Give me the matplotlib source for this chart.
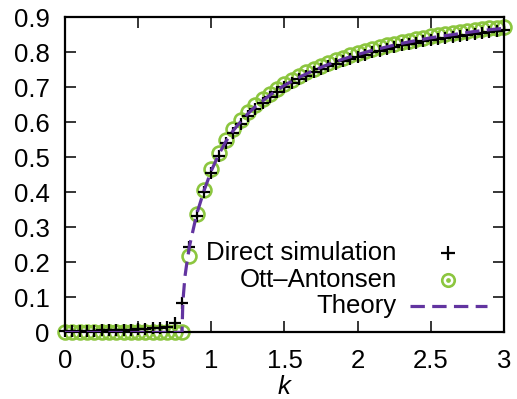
import matplotlib
matplotlib.use("Agg")
import matplotlib.pyplot as plt

plt.rcParams['font.family'] = ['Liberation Sans', 'DejaVu Sans']

# coupling strength grid for the simulations
k_sim = [0.00, 0.05, 0.10, 0.15, 0.20, 0.25, 0.30, 0.35, 0.40, 0.45,
         0.50, 0.55, 0.60, 0.65, 0.70, 0.75, 0.80, 0.85, 0.90, 0.95,
         1.00, 1.05, 1.10, 1.15, 1.20, 1.25, 1.30, 1.35, 1.40, 1.45,
         1.50, 1.55, 1.60, 1.65, 1.70, 1.75, 1.80, 1.85, 1.90, 1.95,
         2.00, 2.05, 2.10, 2.15, 2.20, 2.25, 2.30, 2.35, 2.40, 2.45,
         2.50, 2.55, 2.60, 2.65, 2.70, 2.75, 2.80, 2.85, 2.90, 2.95, 3.00]

r_direct = [0.004, 0.004, 0.005, 0.005, 0.005, 0.006, 0.006, 0.007, 0.007, 0.008,
            0.009, 0.010, 0.012, 0.014, 0.017, 0.026, 0.085, 0.244,
            0.333, 0.400, 0.457, 0.503, 0.541, 0.571, 0.596, 0.619, 0.639, 0.656,
            0.672, 0.686, 0.700, 0.712, 0.723, 0.733, 0.743, 0.752, 0.760, 0.768,
            0.775, 0.782, 0.788, 0.794, 0.800, 0.805, 0.810, 0.815, 0.820, 0.824,
            0.828, 0.832, 0.836, 0.839, 0.842, 0.845, 0.848, 0.851, 0.854, 0.856,
            0.859, 0.861, 0.863]

r_oa = [0.0, 0.0, 0.0, 0.0, 0.0, 0.0, 0.0, 0.0, 0.0, 0.0,
        0.0, 0.0, 0.0, 0.0, 0.0, 0.0, 0.0, 0.218,
        0.338, 0.408, 0.466, 0.512, 0.550, 0.581, 0.606, 0.629, 0.649, 0.666,
        0.682, 0.696, 0.710, 0.722, 0.733, 0.743, 0.753, 0.762, 0.770, 0.778,
        0.785, 0.792, 0.798, 0.804, 0.810, 0.815, 0.820, 0.825, 0.830, 0.834,
        0.838, 0.842, 0.846, 0.849, 0.852, 0.855, 0.858, 0.861, 0.864, 0.866,
        0.869, 0.871, 0.873]

k_theory = [0.0, 0.80, 0.805, 0.81, 0.82, 0.83, 0.85, 0.90, 0.95, 1.00,
            1.05, 1.10, 1.15, 1.20, 1.25, 1.30, 1.40, 1.50, 1.60, 1.70,
            1.80, 1.90, 2.00, 2.10, 2.20, 2.30, 2.40, 2.50, 2.60, 2.70,
            2.80, 2.90, 3.00]
r_theory = [0.0, 0.0, 0.08, 0.11, 0.16, 0.19, 0.245, 0.338, 0.405, 0.462,
            0.508, 0.546, 0.577, 0.602, 0.625, 0.645, 0.678, 0.706, 0.729, 0.749,
            0.766, 0.781, 0.794, 0.806, 0.816, 0.826, 0.834, 0.842, 0.848, 0.854,
            0.860, 0.865, 0.869]

x_ticks = [0, 0.5, 1, 1.5, 2, 2.5, 3]
x_ticklabels = ['0', '0.5', '1', '1.5', '2', '2.5', '3']
y_ticks = [0, 0.1, 0.2, 0.3, 0.4, 0.5, 0.6, 0.7, 0.8, 0.9]
y_ticklabels = ['0', '0.1', '0.2', '0.3', '0.4', '0.5', '0.6', '0.7', '0.8', '0.9']

labels = ['Direct simulation', 'Ott\u2013Antonsen', 'Theory']

GREEN = '#8cc63f'
PURPLE = '#6234a0'
FS = 18.5

fig = plt.figure(figsize=(5.17, 3.99), dpi=100)
ax = fig.add_axes([0.1257, 0.1667, 0.849, 0.7895])

ax.plot(k_sim, r_oa, linestyle='none', marker='o', markersize=10, markerfacecolor='none',
        markeredgecolor=GREEN, markeredgewidth=1.9, zorder=2, clip_on=False)
ax.plot(k_sim, r_direct, linestyle='none', marker='+', markersize=9, color='black',
        markeredgewidth=1.6, zorder=3, clip_on=False)
ax.plot(k_theory, r_theory, color=PURPLE, linewidth=2.3, dashes=(4.5, 2.3), zorder=4)

ax.set_xlim(0, 3)
ax.set_ylim(0, 0.9)
ax.set_xticks(x_ticks)
ax.set_xticklabels(x_ticklabels)
ax.set_yticks(y_ticks)
ax.set_yticklabels(y_ticklabels)
ax.tick_params(direction='in', length=8, width=1.1, top=True, right=True,
               labelsize=FS, pad=12)
ax.tick_params(axis='y', pad=11)
for s in ax.spines.values():
    s.set_linewidth(1.6)
ax.set_xlabel('k', fontsize=FS, style='italic', labelpad=1)

# manual gnuplot-style legend (text right-aligned, sample on the right)
tx = 0.756
mx = 0.872
rows = [0.252, 0.167, 0.084]
for lab, yy in zip(labels, rows):
    ax.text(tx, yy, lab, transform=ax.transAxes, ha='right', va='center', fontsize=FS)
ax.plot([mx], [rows[0]], transform=ax.transAxes, marker='+', markersize=10, color='black',
        markeredgewidth=1.6, linestyle='none')
ax.plot([mx], [rows[1]], transform=ax.transAxes, marker='o', markersize=9,
        markerfacecolor='none', markeredgecolor=GREEN, markeredgewidth=1.9, linestyle='none')
ax.plot([mx], [rows[1]], transform=ax.transAxes, marker='o', markersize=2.4,
        color=GREEN, linestyle='none')
ax.plot([0.786, 0.961], [rows[2], rows[2]], transform=ax.transAxes, color=PURPLE,
        linewidth=2.3, dashes=(4.5, 2.3))

fig.savefig('out.png', dpi=100)
